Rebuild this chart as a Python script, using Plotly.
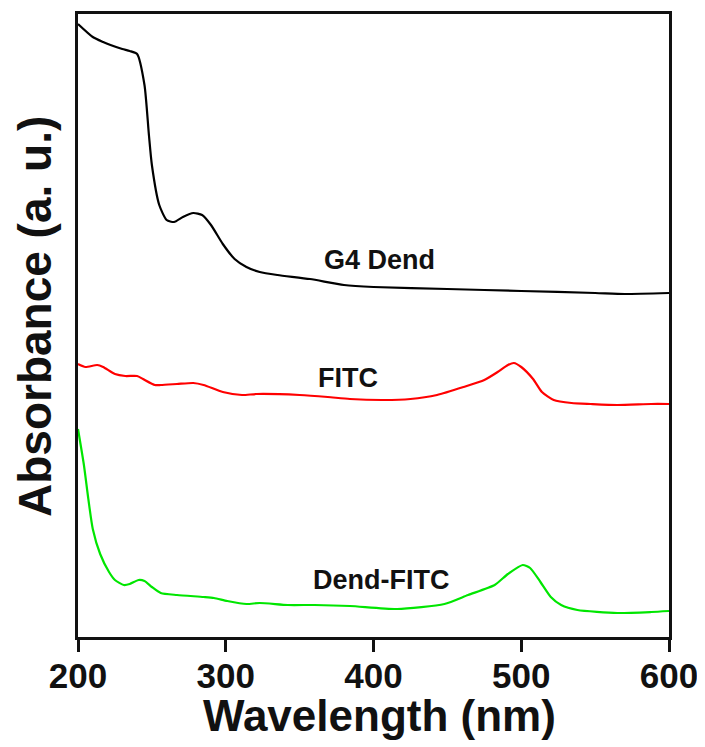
import plotly.graph_objects as go

# G4 Dend (black)
g4_wl = [200, 210, 217, 222, 230, 235, 240, 245, 248, 250, 255, 260, 265, 271, 278, 284, 290, 298,
         306, 314, 323, 335, 357, 380, 400, 450, 500, 550, 570, 600]
g4_abs = [6.14, 6.01, 5.96, 5.93, 5.89, 5.87, 5.84, 5.53, 5.03, 4.73, 4.33, 4.18, 4.16, 4.21, 4.25,
          4.23, 4.13, 3.94, 3.79, 3.71, 3.66, 3.63, 3.59, 3.53, 3.51, 3.49, 3.47, 3.45, 3.44, 3.45]

# FITC (red)
fitc_wl = [200, 205, 213, 217, 225, 232, 240, 244, 252, 256, 267, 278, 285, 298, 311, 321, 350, 369,
           384, 407, 425, 443, 461, 475, 484, 491, 495, 500, 508, 514, 522, 534, 547, 565, 588, 600]
fitc_abs = [2.74, 2.71, 2.73, 2.71, 2.64, 2.62, 2.62, 2.59, 2.53, 2.53, 2.54, 2.55, 2.53, 2.46, 2.43,
            2.44, 2.43, 2.41, 2.39, 2.38, 2.39, 2.43, 2.51, 2.58, 2.66, 2.73, 2.75, 2.71, 2.59, 2.46,
            2.38, 2.35, 2.34, 2.33, 2.34, 2.34]

# Dend-FITC (green)
df_wl = [200, 204, 207, 210, 215, 221, 225, 231, 235, 241, 245, 250, 256, 267, 285, 292, 301, 314,
         323, 342, 360, 384, 416, 448, 464, 482, 491, 501, 506, 513, 520, 527, 538, 565, 588, 600]
df_abs = [2.09, 1.73, 1.39, 1.09, 0.84, 0.66, 0.58, 0.53, 0.54, 0.58, 0.57, 0.51, 0.45, 0.43, 0.41,
          0.40, 0.37, 0.34, 0.35, 0.33, 0.33, 0.32, 0.29, 0.34, 0.43, 0.53, 0.64, 0.73, 0.70, 0.56,
          0.41, 0.33, 0.28, 0.25, 0.26, 0.27]

labels = ["G4 Dend", "FITC", "Dend-FITC"]
label_wl = [404, 383, 405]
label_abs = [3.78, 2.60, 0.58]

x_ticks = [200, 300, 400, 500, 600]
x_title = "Wavelength (nm)"
y_title = "Absorbance (a. u.)"

FONT = "Liberation Sans, Arial, sans-serif"
INK = "#111111"

fig = go.Figure()
for wl, ab, col, name in [(g4_wl, g4_abs, "#000000", labels[0]),
                          (fitc_wl, fitc_abs, "#ff0000", labels[1]),
                          (df_wl, df_abs, "#00e600", labels[2])]:
    fig.add_trace(go.Scatter(x=wl, y=ab, mode="lines", name=name,
                             line=dict(color=col, width=2.2, shape="spline", smoothing=0.6)))

for t, x, y in zip(labels, label_wl, label_abs):
    fig.add_annotation(x=x, y=y, text="<b>%s</b>" % t, showarrow=False,
                       font=dict(family=FONT, size=27, color=INK))

# axis titles placed as paper annotations
fig.add_annotation(xref="paper", yref="paper", x=0.51, y=-0.126, xanchor="center", yanchor="middle",
                   text="<b>%s</b>" % x_title, showarrow=False,
                   font=dict(family=FONT, size=44, color=INK))
fig.add_annotation(xref="paper", yref="paper", x=-0.073, y=0.515, xanchor="center", yanchor="middle",
                   text="<b>%s</b>" % y_title, textangle=-90, showarrow=False,
                   font=dict(family=FONT, size=46, color=INK))

# the page body adds an 8px offset, so the figure is sized to fit the 705x747 window
fig.update_layout(
    width=697, height=739,
    margin=dict(l=70, r=36, t=6, b=110),
    paper_bgcolor="white", plot_bgcolor="white",
    showlegend=False,
    font=dict(family=FONT, color=INK),
)
fig.update_xaxes(
    range=[200, 600], tickvals=x_ticks, ticktext=["<b>%d</b>" % v for v in x_ticks],
    ticks="outside", ticklen=12, tickwidth=2.5, tickcolor=INK, ticklabelstandoff=-6,
    tickfont=dict(family=FONT, size=35, color=INK),
    showline=True, linewidth=2.5, linecolor=INK, mirror=True,
    showgrid=False, zeroline=False, automargin=False,
)
fig.update_yaxes(
    range=[0.01, 6.24], showticklabels=False, ticks="",
    showline=True, linewidth=2.5, linecolor=INK, mirror=True,
    showgrid=False, zeroline=False, automargin=False,
)

fig.write_html("out.html")
